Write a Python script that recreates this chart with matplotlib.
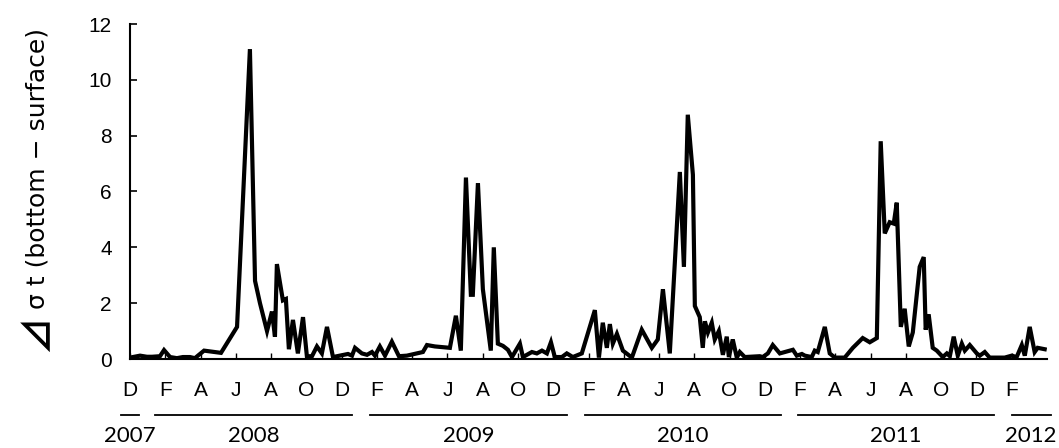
import matplotlib
matplotlib.use("Agg")
import matplotlib.pyplot as plt
import matplotlib.transforms as mtransforms

# time axis: months since 1 Dec 2007
t_month = [
    0.00, 0.57, 0.96, 1.25, 1.70, 1.93, 2.27, 2.66, 3.00, 3.40, 3.68, 4.20, 5.16,
    6.07, 6.80, 7.09, 7.37, 7.77, 8.05, 8.22, 8.33, 8.67, 8.84, 9.01, 9.24, 9.52,
    9.81, 10.03, 10.32, 10.60, 10.88, 11.17, 11.51, 11.90, 12.36, 12.59, 12.76,
    13.15, 13.44, 13.72, 13.89, 14.17, 14.46, 14.85, 15.25, 15.70, 16.27, 16.61,
    16.84, 17.29, 18.14, 18.48, 18.76, 19.05, 19.33, 19.44, 19.73, 20.01, 20.46,
    20.63, 20.86, 21.15, 21.43, 21.66, 22.11, 22.28, 22.79, 23.07, 23.36, 23.64,
    23.87, 24.09, 24.49, 24.77, 25.11, 25.62, 26.36, 26.59, 26.81, 27.04, 27.21,
    27.38, 27.61, 27.95, 28.46, 29.02, 29.59, 29.93, 30.22, 30.61, 31.18, 31.41,
    31.63, 31.92, 32.03, 32.31, 32.48, 32.60, 32.77, 32.99, 33.16, 33.39, 33.62,
    33.84, 33.96, 34.18, 34.41, 34.58, 34.86, 35.71, 35.88, 36.17, 36.45, 36.85,
    37.59, 37.81, 38.10, 38.27, 38.66, 38.83, 39.00, 39.40, 39.68, 39.97, 40.53,
    40.99, 41.55, 41.95, 42.35, 42.57, 42.80, 43.08, 43.31, 43.48, 43.71, 43.93,
    44.16, 44.39, 44.78, 45.01, 45.12, 45.29, 45.52, 45.75, 46.09, 46.32, 46.49,
    46.71, 46.94, 47.17, 47.34, 47.62, 48.02, 48.19, 48.47, 48.75, 49.60, 50.00,
    50.28, 50.57, 50.74, 51.02, 51.30, 51.47, 51.87,
]

# sigma-t difference, bottom minus surface
d_sigma_t = [
    0.05, 0.12, 0.08, 0.08, 0.10, 0.32, 0.07, 0.03, 0.07, 0.07, 0.03, 0.30, 0.22,
    1.15, 11.10, 2.80, 2.00, 1.00, 1.70, 0.80, 3.40, 2.10, 2.15, 0.35, 1.40, 0.20,
    1.50, 0.10, 0.10, 0.45, 0.20, 1.15, 0.07, 0.12, 0.18, 0.12, 0.40,
    0.20, 0.15, 0.25, 0.12, 0.45, 0.12, 0.62, 0.10, 0.12, 0.20, 0.25,
    0.50, 0.45, 0.40, 1.55, 0.30, 6.50, 2.30, 2.30, 6.30, 2.50, 0.30,
    4.00, 0.55, 0.47, 0.33, 0.07, 0.55, 0.07, 0.25, 0.20, 0.30, 0.20,
    0.60, 0.07, 0.07, 0.20, 0.07, 0.20, 1.75, 0.05, 1.30, 0.40, 1.25,
    0.55, 0.90, 0.30, 0.05, 1.05, 0.40, 0.70, 2.50, 0.20, 6.70, 3.30,
    8.75, 6.60, 1.90, 1.50, 0.40, 1.35, 0.95, 1.30, 0.70, 1.00, 0.15,
    0.80, 0.07, 0.70, 0.05, 0.25, 0.07, 0.10, 0.07, 0.20, 0.50, 0.20,
    0.33, 0.12, 0.18, 0.12, 0.07, 0.30, 0.25, 1.15, 0.20, 0.05, 0.05,
    0.40, 0.75, 0.60, 0.75, 7.80, 4.50, 4.90, 4.85, 5.60, 1.15, 1.80,
    0.45, 0.95, 3.30, 3.65, 1.05, 1.60, 0.40, 0.30, 0.07, 0.20, 0.10,
    0.80, 0.12, 0.55, 0.30, 0.50, 0.20, 0.12, 0.25, 0.05, 0.05, 0.12,
    0.07, 0.50, 0.12, 1.15, 0.25, 0.40, 0.35,
]

# every second month from Dec 2007 to Feb 2012
month_ticks = list(range(0, 51, 2))
month_labels = ["D"] + ["F", "A", "J", "A", "O", "D"] * 4 + ["F"]

# year group labels under the month letters: (label, first month, last month)
year_groups = [
    ("2007", -0.5, 0.5),
    ("2008", 1.4, 12.6),
    ("2009", 13.6, 24.8),
    ("2010", 25.8, 36.9),
    ("2011", 37.9, 49.0),
    ("2012", 50.0, 52.2),
]

fig = plt.figure(figsize=(10.59, 4.48), dpi=100)
ax = fig.add_axes([130 / 1059, 1 - 359 / 448, 917 / 1059, 335 / 448])

ax.plot(t_month, d_sigma_t, color="black", lw=3.0, solid_joinstyle="miter")

ax.set_xlim(0, 52)
ax.set_ylim(0, 12)
ax.set_yticks(range(0, 13, 2))
ax.set_xticks(month_ticks)
ax.set_xticklabels(month_labels)

for side in ("top", "right"):
    ax.spines[side].set_visible(False)
for side in ("left", "bottom"):
    ax.spines[side].set_linewidth(1.5)
    ax.spines[side].set_color("black")

ax.tick_params(axis="y", direction="in", length=5, width=1.2, pad=13,
               labelsize=15, labelfontfamily="Liberation Sans")
ax.tick_params(axis="x", direction="in", length=4, width=1.0, pad=16,
               labelsize=15, labelfontfamily="Liberation Sans")

# y label: large triangle sign, then the rest of the title above it
fig.text(37 / 1059, 1 - 352 / 448, "⊿", rotation=90, ha="center",
         va="bottom", fontsize=27, family=["Noto Sans CJK JP"],
         fontweight="bold")
fig.text(38 / 1059, 1 - 28 / 448, "σ t (bottom − surface)", rotation=90,
         ha="center", va="top", fontsize=18, family=["DejaVu Sans"])

trans = mtransforms.blended_transform_factory(ax.transData, ax.transAxes)
for label, x0, x1 in year_groups:
    ax.plot([x0, x1], [-0.167, -0.167], color="black", lw=1.3,
            transform=trans, clip_on=False)
    ax.text((x0 + x1) / 2, -0.23, label, transform=trans, ha="center",
            va="center", fontsize=16, family=["Lato", "DejaVu Sans"])

fig.savefig("out.png", dpi=100)
